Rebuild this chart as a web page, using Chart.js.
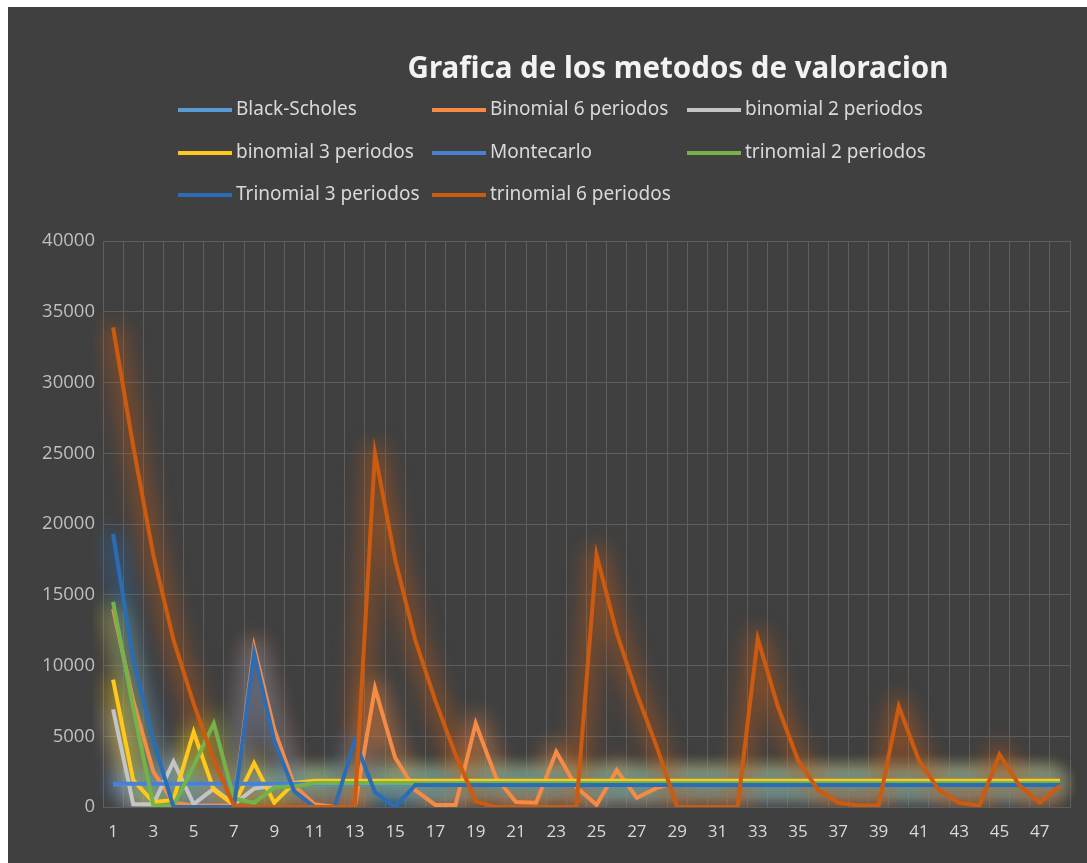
<!DOCTYPE html>
<html>
<head>
<meta charset="utf-8">
<script src="https://cdn.jsdelivr.net/npm/chart.js@4.4.1/dist/chart.umd.min.js"></script>
<style>
  body { margin: 0; background: #ffffff; }
  .panel { position: absolute; left: 8px; top: 7px; width: 1079px; height: 856px; background: #404040; }
</style>
</head>
<body>
<div class="panel"><canvas id="grafica"></canvas></div>
<script>
// Periodos (eje X)
const categories = ['1','2','3','4','5','6','7','8','9','10','11','12','13','14','15','16',
  '17','18','19','20','21','22','23','24','25','26','27','28','29','30','31','32',
  '33','34','35','36','37','38','39','40','41','42','43','44','45','46','47','48'];

// Valores de cada metodo
const blackScholes = [1600,1600,1600,1600,1600,1600,1600,1600,1600,1600,1600,1600,1600,1600,1600,1600,
  1600,1600,1600,1600,1600,1600,1600,1600,1600,1600,1600,1600,1600,1600,1600,1600,
  1600,1600,1600,1600,1600,1600,1600,1600,1600,1600,1600,1600,1600,1600,1600,1600];
const binomial6 = [14000,7500,2500,300,100,100,100,11300,5500,1500,200,0,0,8400,3500,1200,
  150,150,5900,2100,350,300,3900,1400,150,2600,650,1350,1750,1750,1750,1750,
  1750,1750,1750,1750,1750,1750,1750,1750,1750,1750,1750,1750,1750,1750,1750,1750];
const binomial2 = [6900,200,200,3200,200,1300,200,1300,1500,1700,1700,1700,1700,1700,1700,1700,
  1700,1700,1700,1700,1700,1700,1700,1700,1700,1700,1700,1700,1700,1700,1700,1700,
  1700,1700,1700,1700,1700,1700,1700,1700,1700,1700,1700,1700,1700,1700,1700,1700];
const binomial3 = [9000,1900,350,500,5300,1200,150,3100,300,1700,1850,1850,1850,1850,1850,1850,
  1850,1850,1850,1850,1850,1850,1850,1850,1850,1850,1850,1850,1850,1850,1850,1850,
  1850,1850,1850,1850,1850,1850,1850,1850,1850,1850,1850,1850,1850,1850,1850,1850];
const montecarlo = [1650,1650,1650,1650,1650,1650,1650,1650,1650,1650,1650,1650,1650,1650,1650,1650,
  1650,1650,1650,1650,1650,1650,1650,1650,1650,1650,1650,1650,1650,1650,1650,1650,
  1650,1650,1650,1650,1650,1650,1650,1650,1650,1650,1650,1650,1650,1650,1650,1650];
const trinomial2 = [14500,7000,100,100,2900,5900,600,300,1400,1450,1700,1700,1700,1700,1700,1700,
  1700,1700,1700,1700,1700,1700,1700,1700,1700,1700,1700,1700,1700,1700,1700,1700,
  1700,1700,1700,1700,1700,1700,1700,1700,1700,1700,1700,1700,1700,1700,1700,1700];
const trinomial3 = [19300,10400,4700,0,0,0,0,10900,4700,1100,0,0,4700,1050,0,1550,
  1550,1550,1550,1550,1550,1550,1550,1550,1550,1550,1550,1550,1550,1550,1550,1550,
  1550,1550,1550,1550,1550,1550,1550,1550,1550,1550,1550,1550,1550,1550,1550,1550];
const trinomial6 = [33900,25500,17800,11800,7300,3300,100,0,0,0,0,0,0,25000,17500,11800,
  7500,3700,400,0,0,0,0,0,17800,12300,8000,4200,0,0,0,0,
  11900,7100,3300,1200,300,100,100,7100,3300,1200,300,100,3700,1500,300,1500];

// Marcas del eje Y
const yTicks = [0,5000,10000,15000,20000,25000,30000,35000,40000];

const series = [
  { label: 'Black-Scholes',        data: blackScholes, color: '#5B9BD5' },
  { label: 'Binomial 6 periodos',  data: binomial6,    color: '#F58B45' },
  { label: 'binomial 2 periodos',  data: binomial2,    color: '#C4C4C4' },
  { label: 'binomial 3 periodos',  data: binomial3,    color: '#FFC81A' },
  { label: 'Montecarlo',           data: montecarlo,   color: '#4A80D2' },
  { label: 'trinomial 2 periodos', data: trinomial2,   color: '#74B34A' },
  { label: 'Trinomial 3 periodos', data: trinomial3,   color: '#2A6DB5' },
  { label: 'trinomial 6 periodos', data: trinomial6,   color: '#CC5B10' }
];

// Brillo difuso: los datasets "glow" se dibujan desenfocados
const glowPlugin = {
  id: 'glow',
  beforeDatasetDraw(chart, args) {
    const ds = chart.data.datasets[args.index];
    chart.ctx.save();
    if (ds.isGlow) chart.ctx.filter = 'blur(10px)';
  },
  afterDatasetDraw(chart) { chart.ctx.restore(); }
};

// Titulo y leyenda dibujados a mano para copiar la posicion original
const headerPlugin = {
  id: 'header',
  afterDraw(chart) {
    const ctx = chart.ctx;
    ctx.save();
    ctx.fillStyle = '#F2F2F2';
    ctx.font = 'bold 29.5px "Noto Sans", sans-serif';
    ctx.textAlign = 'center';
    ctx.textBaseline = 'middle';
    ctx.fillText('Grafica de los metodos de valoracion', 670, 63);

    const cols = [170, 424, 679];
    const rows = [103, 146, 188];
    ctx.font = '19px "Noto Sans", sans-serif';
    ctx.textAlign = 'left';
    chart.data.datasets.filter(ds => !ds.isGlow).forEach((ds, i) => {
      const x = cols[i % 3];
      const y = rows[Math.floor(i / 3)];
      ctx.strokeStyle = ds.borderColor;
      ctx.lineWidth = 4;
      ctx.beginPath();
      ctx.moveTo(x, y);
      ctx.lineTo(x + 54, y);
      ctx.stroke();
      ctx.fillStyle = '#D9D9D9';
      ctx.fillText(ds.label, x + 58, y);
    });
    ctx.restore();
  }
};

const gridColor = '#5E5E5E';

// lineas principales (series posteriores encima, como en Excel)
const lineSets = series.map((s, i) => ({
  label: s.label,
  data: s.data,
  borderColor: s.color,
  backgroundColor: s.color,
  borderWidth: 4,
  pointRadius: 0,
  tension: 0,
  fill: false,
  order: 20 - i
}));

// halo de cada serie, dibujado debajo de todas las lineas
const glowSets = series.map((s, i) => ({
  label: s.label + ' glow',
  isGlow: true,
  data: s.data,
  borderColor: s.color + '70',
  borderWidth: 20,
  borderJoinStyle: 'round',
  pointRadius: 0,
  tension: 0,
  fill: false,
  order: 60 - i
}));

new Chart(document.getElementById('grafica'), {
  type: 'line',
  data: { labels: categories, datasets: [...lineSets, ...glowSets] },
  options: {
    responsive: true,
    maintainAspectRatio: false,
    animation: false,
    layout: { padding: { top: 234, right: 17, left: 0, bottom: 0 } },
    plugins: {
      legend: { display: false },
      title: { display: false },
      tooltip: { enabled: false }
    },
    scales: {
      x: {
        offset: true,
        grid: { color: gridColor, offset: true, drawTicks: false },
        border: { color: gridColor },
        ticks: {
          autoSkip: false, maxRotation: 0, padding: 15,
          color: '#D9D9D9',
          font: { family: '"Open Sans", sans-serif', size: 17 },
          callback: (v, i) => (i % 2 === 0 ? categories[i] : '')
        },
        afterFit: (s) => { s.height = 56; }
      },
      y: {
        min: 0, max: 40000,
        afterBuildTicks: (s) => { s.ticks = yTicks.map(v => ({ value: v })); },
        grid: { color: gridColor, drawTicks: false },
        border: { color: gridColor },
        ticks: {
          padding: 8,
          color: '#BFBFBF',
          font: { family: '"Open Sans", sans-serif', size: 18.5 },
          callback: (v) => String(v)
        },
        afterFit: (s) => { s.width = 95; }
      }
    }
  },
  plugins: [glowPlugin, headerPlugin]
});
</script>
</body>
</html>
